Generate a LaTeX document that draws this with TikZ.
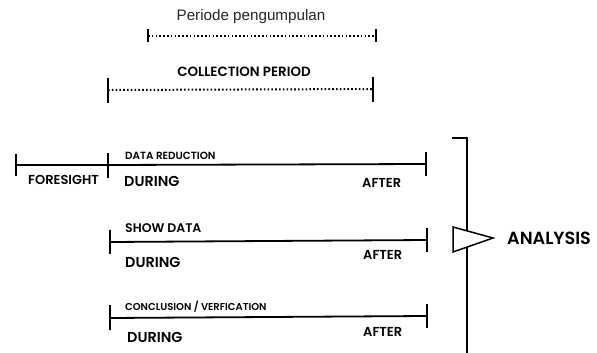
\documentclass[tikz,border=0pt]{standalone}
\usepackage{fontspec}
\setmainfont{Poppins}[BoldFont={Poppins SemiBold}]
\newfontfamily\arialfont{Liberation Sans}
\begin{document}
\begin{tikzpicture}[x=1pt,y=-1pt,
  tl/.style={line width=1.8pt},
  tickmark/.style={line width=2.6pt},
  dotline/.style={line width=2pt, dash pattern=on 1.6pt off 2.2pt},
  lbl/.style={inner sep=0pt, anchor=west, font=\bfseries\fontsize{#1}{#1}\selectfont},
  lbl/.default=10]
\useasboundingbox (0,0) rectangle (597,353);
\fill[white] (0,0) rectangle (597,353);

% dotted periods
\coordinate (p1a) at (148,36);
\coordinate (p1b) at (376,36);
\draw[dotline] (p1a) -- (p1b);
\draw[tickmark] ([yshift=7pt]p1a) -- ([yshift=-6pt]p1a);
\draw[tickmark] ([yshift=7pt]p1b) -- ([yshift=-6pt]p1b);
\node[inner sep=0pt, text=black!85, font=\arialfont\fontsize{15.2}{15}\selectfont] (periode) at (251,17) {Periode pengumpulan};

\coordinate (p2a) at (108,90);
\coordinate (p2b) at (373,89);
\draw[dotline] (p2a) -- (p2b);
\draw[tickmark] ([yshift=12pt]p2a) -- ([yshift=-13pt]p2a);
\draw[tickmark] ([yshift=12pt]p2b) -- ([yshift=-13pt]p2b);
\node[lbl=13.4, anchor=center] (collection) at (244,72) {COLLECTION PERIOD};

% timeline 1
\coordinate (f0) at (16,165);
\coordinate (a0) at (108,165);
\coordinate (b0) at (426,164);
\draw[tl] (f0) -- (a0) -- (b0);
\draw[tickmark] ([yshift=11pt]f0) -- ([yshift=-11pt]f0);
\draw[tickmark] ([yshift=12pt]a0) -- ([yshift=-13pt]a0);
\draw[tickmark] ([yshift=12pt]b0) -- ([yshift=-12pt]b0);
\node[lbl=13] (foresight) at (28,180) {FORESIGHT};
\node[lbl=10.4] (dr) at (125,156) {DATA REDUCTION};
\node[lbl=14.4] (during1) at (124,181) {DURING};
\node[lbl=13] (after1) at (362,183) {AFTER};

% timeline 2
\coordinate (a1) at (110,242);
\coordinate (b1) at (427,240);
\draw[tl] (a1) -- (b1);
\draw[tickmark] ([yshift=12pt]a1) -- ([yshift=-12pt]a1);
\draw[tickmark] ([yshift=12pt]b1) -- ([yshift=-12pt]b1);
\node[lbl=12.5] (show) at (125,228) {SHOW DATA};
\node[lbl=14.4] (during2) at (125,262) {DURING};
\node[lbl=13] (after2) at (363,255) {AFTER};

% timeline 3
\coordinate (a2) at (110,318);
\coordinate (b2) at (427,316);
\draw[tl] (a2) -- (b2);
\draw[tickmark] ([yshift=13pt]a2) -- ([yshift=-12pt]a2);
\draw[tickmark] ([yshift=12pt]b2) -- ([yshift=-12pt]b2);
\node[lbl=10] (concl) at (125,307) {CONCLUSION / VERFICATION};
\node[lbl=14.4] (during3) at (127,337) {DURING};
\node[lbl=13] (after3) at (363,332) {AFTER};

% bracket and analysis
\coordinate (bt) at (467,138);
\coordinate (bb) at (467,353);
\draw[line width=1.5pt] (452,138) -- (bt) -- (bb);
\draw[line width=1.5pt, fill=white, line join=miter] (453,227) -- (493,238) -- (453,252) -- cycle;
\node[lbl=17.6] (analysis) at (507,238) {ANALYSIS};
\end{tikzpicture}
\end{document}
